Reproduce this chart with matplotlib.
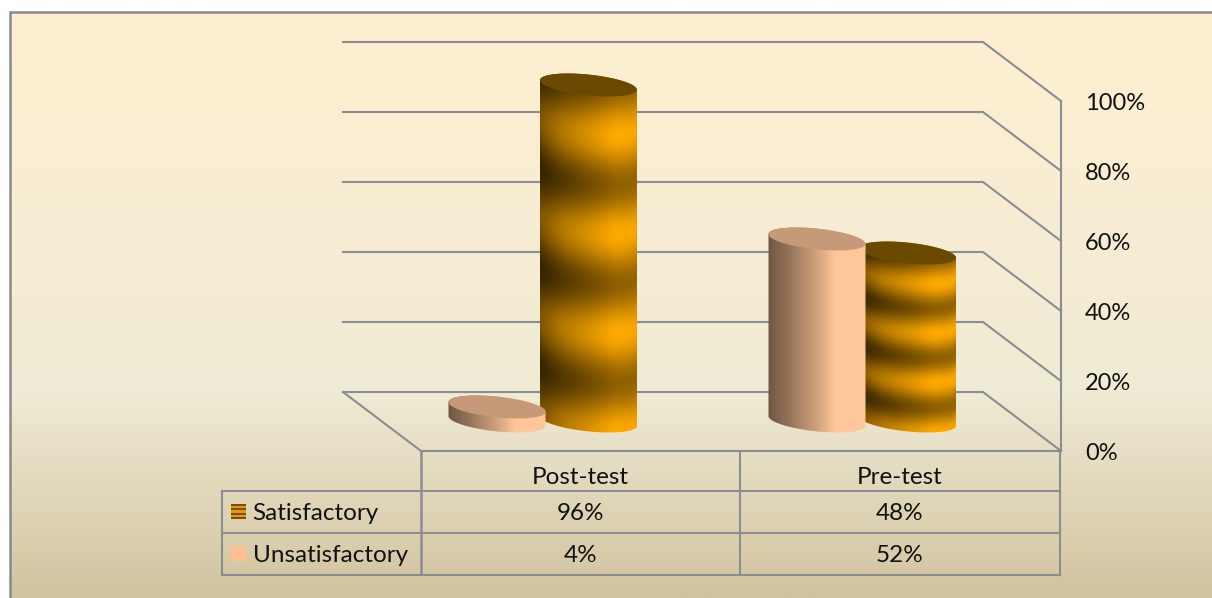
import numpy as np
import matplotlib
matplotlib.use("Agg")
import matplotlib.pyplot as plt
from matplotlib.colors import LinearSegmentedColormap
from matplotlib.patches import Polygon, Rectangle

plt.rcParams['font.family'] = ['Lato', 'DejaVu Sans']

categories = ['Post-test', 'Pre-test']
satisfactory = [96, 48]
unsatisfactory = [4, 52]
ticks = [0, 20, 40, 60, 80, 100]

W, H = 1212, 598
Y0 = 451          # pixel row of 0%
PX = 3.5          # pixels per 1%
LINE = '#8a8d91'
TXT = '#111111'


def py(px):
    # pixel row -> axis value in %
    return (Y0 - px) / PX


fig = plt.figure(figsize=(W / 100, H / 100), dpi=100, facecolor='white')
ax = fig.add_axes([0, 0, 1, 1])
ax.axis('off')

# background (parchment gradient)
bg = LinearSegmentedColormap.from_list('parch', [(0, '#FFEFD1'), (0.65, '#F0EBD5'), (1, '#D1C39F')])
ax.imshow(np.linspace(0, 1, 300).reshape(-1, 1), cmap=bg, aspect='auto', zorder=0,
          extent=[10, W, py(H), py(12)], origin='upper')
ax.plot([10, 10, W], [py(H), py(12), py(12)], color='#8a8a8a', lw=1.8, zorder=1, solid_joinstyle='miter')

# back wall, side wall, floor
dx, dy = 78, 59
x_left, x_right = 421, 1061
LW = 1.5
for t in ticks:
    yf = t
    yb = t + dy / PX
    ax.plot([x_left - dx, x_right - dx, x_right], [yb, yb, yf], color=LINE, lw=LW, zorder=2)
ax.plot([x_left - dx, x_left], [dy / PX, 0], color=LINE, lw=LW, zorder=2)
ax.plot([x_left, x_right], [0, 0], color=LINE, lw=LW, zorder=2)
ax.plot([x_right, x_right], [0, 100], color=LINE, lw=LW, zorder=2)

for t in ticks:
    ax.text(1085, py(Y0 - t * PX + 2), f'{t}%', fontsize=17, color=TXT, va='center', ha='left', zorder=6)

# cylinders
A = 48.5
B = 10.4
K = 0.1
BASE = 421


def arc(cx, cy, t):
    return cx + A * np.cos(t), cy + B * np.sin(t) + K * A * np.cos(t)


def sat_shade(u, s):
    band = 0.5 + 0.5 * np.cos(2 * np.pi * s / 0.295)
    side = np.interp(u, [-1, -0.5, 0.55, 1], [0.5, 0.72, 1.0, 0.97])
    # dark bands bite hardest on the left of the cylinder
    floor = np.interp(u, [-1, 0, 1], [0.42, 0.52, 0.6])
    light = (floor + (1 - floor) * band) * side
    return np.dstack([255 * light, 170 * light, 0 * light]) / 255


def unsat_shade(u, s):
    side = np.interp(u, [-1, -0.6, 0.0, 0.35, 1], [0.44, 0.58, 0.82, 1.0, 1.0])
    return np.dstack([255 * side, 199 * side, 153 * side]) / 255


def cylinder(cx, value, shade, cap, z):
    top = BASE - value * PX
    x = np.arange(cx - A - 1, cx + A + 2, 0.5)
    y = np.arange(top - 14, BASE + 18, 0.5)
    xx, yy = np.meshgrid(x, y)
    u = np.clip((xx - cx) / A, -1, 1)
    off = B * np.sqrt(1 - u ** 2) + K * A * u
    s = (BASE + off - yy) / (BASE - top)
    im = ax.imshow(shade(u, s), aspect='auto', zorder=z, origin='upper', interpolation='bilinear',
                   extent=[x[0], x[-1], py(y[-1]), py(y[0])])

    front = np.linspace(np.pi, 0, 60)
    back = np.linspace(0, -np.pi, 60)
    bx, by = arc(cx, BASE, front)
    tx, ty = arc(cx, top, back)
    body = np.column_stack([np.r_[bx, tx], py(np.r_[by, ty])])
    clip = Polygon(body, closed=True, transform=ax.transData, fc='none', ec='none')
    ax.add_patch(clip)
    im.set_clip_path(clip)

    tt = np.linspace(0, 2 * np.pi, 120)
    ex, ey = arc(cx, top, tt)
    ax.add_patch(Polygon(np.column_stack([ex, py(ey)]), closed=True, fc=cap, ec='none', zorder=z + 0.1))


centers_sat = [588.5, 907.5]
centers_unsat = [497, 817]
for i in range(len(categories)):
    cylinder(centers_sat[i], satisfactory[i], sat_shade, '#6b4a00', 3)
    cylinder(centers_unsat[i], unsatisfactory[i], unsat_shade, '#c69a78', 4)

# data table
col_x = [222, 421, 740, 1060]
row_y = [451, 491, 533, 575]
for k, cx in enumerate(col_x):
    start = row_y[1] if k == 0 else row_y[0]
    ax.plot([cx, cx], [py(start), py(row_y[-1])], color=LINE, lw=1.8 if k == 1 else LW, zorder=5,
            solid_capstyle='butt')
for r in row_y[1:]:
    ax.plot([col_x[0], col_x[3]], [py(r), py(r)], color=LINE, lw=LW, zorder=5)

fs = 17.5
for i, c in enumerate(categories):
    cx = (col_x[i + 1] + col_x[i + 2]) / 2
    ax.text(cx, py(477), c, fontsize=fs, color=TXT, ha='center', va='center', zorder=6)
    ax.text(cx, py(514), f'{satisfactory[i]}%', fontsize=fs, color=TXT, ha='center', va='center', zorder=6)
    ax.text(cx, py(556), f'{unsatisfactory[i]}%', fontsize=fs, color=TXT, ha='center', va='center', zorder=6)

ax.text(252, py(513), 'Satisfactory', fontsize=fs, color=TXT, ha='left', va='center', zorder=6)
ax.text(253, py(555), 'Unsatisfactory', fontsize=fs, color=TXT, ha='left', va='center', zorder=6)

# legend keys
stripes = np.array([0.45, 1, 0.45, 1, 0.45, 1, 0.45]).reshape(-1, 1)
key = LinearSegmentedColormap.from_list('key', ['#7a5000', '#e89a00'])
ax.imshow(stripes, cmap=key, aspect='auto', zorder=6, origin='upper', interpolation='nearest',
          extent=[231, 246, py(519), py(504)])
ax.add_patch(Rectangle((231, py(561)), 15, 15 / PX, fc='#FFC08F', ec='none', zorder=6))

ax.set_xlim(0, W)
ax.set_ylim(py(H), py(0))

fig.savefig('out.png', dpi=100)
